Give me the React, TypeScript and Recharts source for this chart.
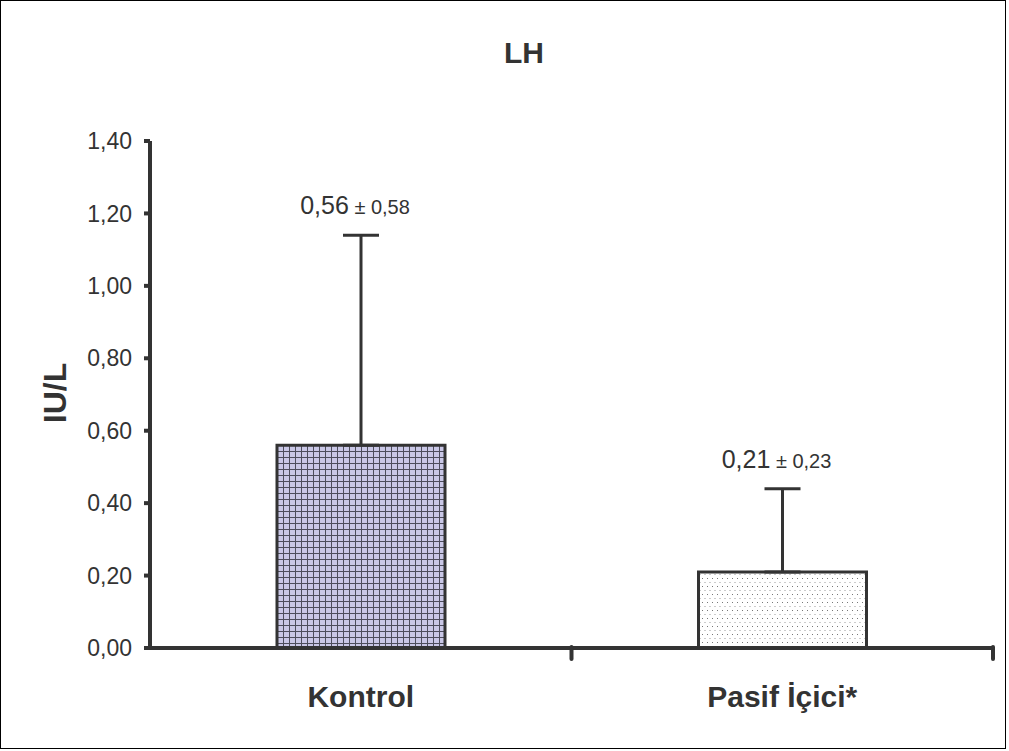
import * as React from 'react';
import { ComposedChart, Bar, XAxis, YAxis, ErrorBar, Cell, LabelList } from 'recharts';

const groups = ['Kontrol', 'Pasif İçici*'];
const means = [0.56, 0.21];
const sds = [0.58, 0.23];
const yTicks = [0, 0.2, 0.4, 0.6, 0.8, 1.0, 1.2, 1.4];
const fills = ['url(#grid)', 'url(#dots)'];

const data = groups.map((name, i) => ({ name, mean: means[i], err: [0, sds[i]] }));

const ink = '#333';
const font = '"Liberation Sans", Arial, sans-serif';
const fmt = (v: number) => v.toFixed(2).replace('.', ',');

const CategoryTick = (props: any) => {
  const { x, y, payload } = props;
  const band = (992 - 149) / groups.length;
  return (
    <g>
      <line x1={x + band / 2} y1={y - 9} x2={x + band / 2} y2={y + 3} stroke={ink} strokeWidth={4} strokeLinecap="round" />
      <text x={x} y={y + 51} textAnchor="middle" fontFamily={font} fontSize={30} fontWeight="bold" fill={ink}>
        {payload.value}
      </text>
    </g>
  );
};

const MeanLabel = (props: any) => {
  const { x, y, width, height, index } = props;
  const perUnit = height / means[index];
  const top = y - sds[index] * perUnit;
  return (
    <text x={x + width / 2 - 6} y={top - 21} textAnchor="middle" fontFamily={font} fill={ink}>
      <tspan fontSize={25}>{fmt(means[index])}</tspan>
      <tspan fontSize={20}>{' ± ' + fmt(sds[index])}</tspan>
    </text>
  );
};

const App = () => {
  return (
    <div style={{ position: 'absolute', left: 0, top: 0, width: 1004, height: 747, border: '1px solid #000', background: '#fff' }}>
      <ComposedChart width={1004} height={747} data={data} margin={{ top: 140, right: 12, bottom: 70, left: 89 }}>
        <defs>
          <pattern id="grid" width={6} height={6} patternUnits="userSpaceOnUse">
            <rect width={6} height={6} fill="#c9c7e6" />
            <path d="M0 0.5 H6 M0.5 0 V6" stroke="#4d4d5c" strokeWidth={1} />
          </pattern>
          <pattern id="dots" width={5} height={8} patternUnits="userSpaceOnUse">
            <rect width={5} height={8} fill="#fff" />
            <rect x={1} y={1} width={1} height={1} fill="#777" />
            <rect x={3.5} y={5} width={1} height={1} fill="#999" />
          </pattern>
        </defs>
        <text x={523} y={62} textAnchor="middle" fontFamily={font} fontSize={30} fontWeight="bold" fill={ink}>LH</text>
        <text transform="translate(65,392) rotate(-90)" textAnchor="middle" fontFamily={font} fontSize={32} fontWeight="bold" fill={ink}>IU/L</text>
        <XAxis dataKey="name" height={30} axisLine={{ stroke: ink, strokeWidth: 4 }} tickLine={false} tick={<CategoryTick />} />
        <YAxis
          domain={[0, 1.4]}
          ticks={yTicks}
          width={60}
          tickFormatter={fmt}
          axisLine={{ stroke: ink, strokeWidth: 4 }}
          tickLine={{ stroke: ink, strokeWidth: 4 }}
          tickSize={6}
          tickMargin={12}
          tick={{ fontFamily: font, fontSize: 23, fill: ink }}
        />
        <Bar dataKey="mean" barSize={168} stroke={ink} strokeWidth={3} isAnimationActive={false}>
          {data.map((d, i) => (
            <Cell key={d.name} fill={fills[i]} />
          ))}
          <ErrorBar dataKey="err" direction="y" width={18} stroke={ink} strokeWidth={3} />
          <LabelList dataKey="mean" content={<MeanLabel />} />
        </Bar>
      </ComposedChart>
    </div>
  );
};

export default App;
